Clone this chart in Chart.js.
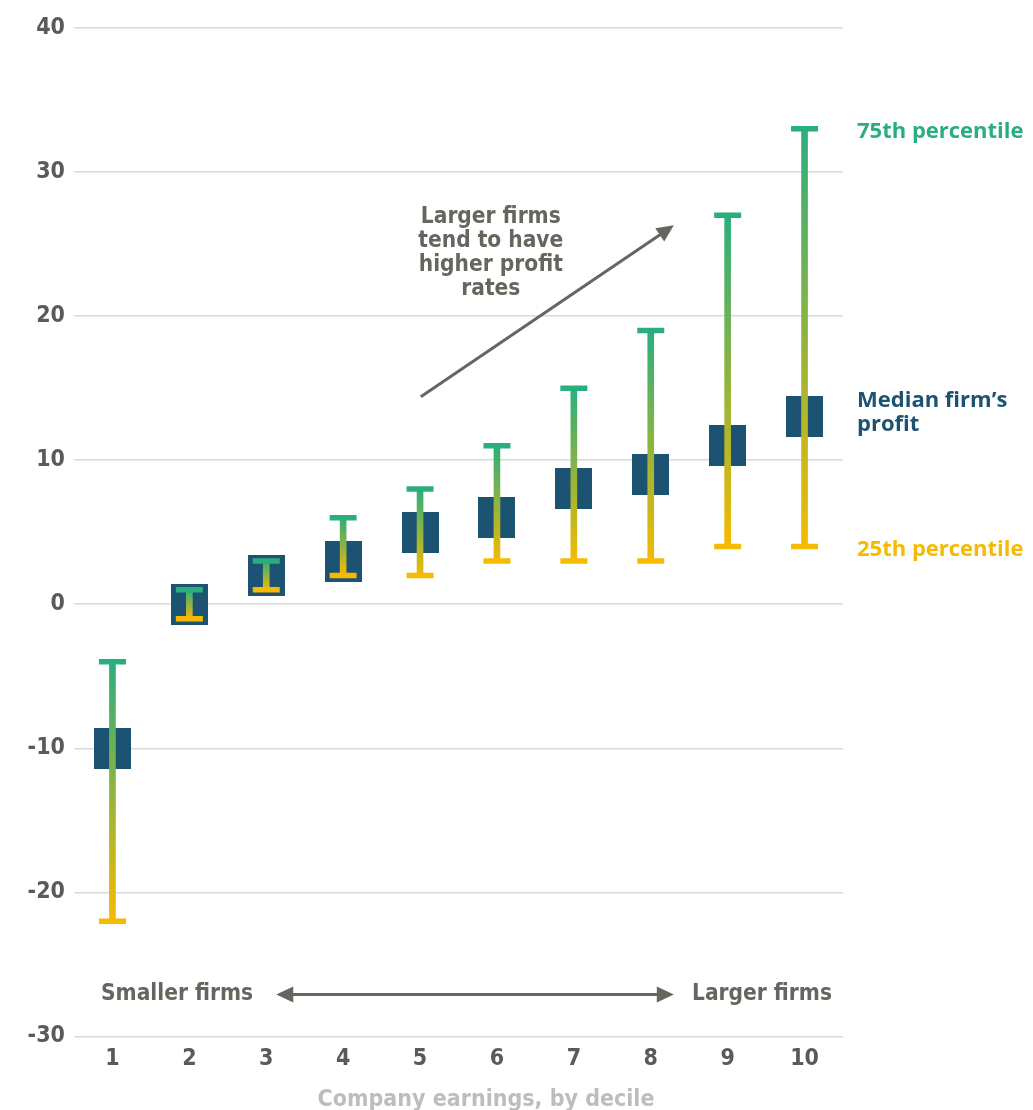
<!DOCTYPE html>
<html>
<head>
<meta charset="utf-8">
<script src="https://cdn.jsdelivr.net/npm/chart.js@4.4.1/dist/chart.umd.min.js"></script>
<style>
  html, body { margin: 0; padding: 0; background: #ffffff; }
  #wrap { width: 1033px; height: 1110px; position: relative; }
</style>
</head>
<body>
<div id="wrap"><canvas id="c" width="1033" height="1110"></canvas></div>
<script>
// ---- Data ----
const deciles = ['1', '2', '3', '4', '5', '6', '7', '8', '9', '10'];
const p25 = [-22, -1, 1, 2, 2, 3, 3, 3, 4, 4];
const median = [-10, 0, 2, 3, 5, 6, 8, 9, 11, 13];
const p75 = [-4, 1, 3, 6, 8, 11, 15, 19, 27, 33];
const yTicks = [-30, -20, -10, 0, 10, 20, 30, 40];

// ---- Styles ----
const GREEN = '#2bae7e';
const YELLOW = '#f6ba00';
const NAVY = '#1c5272';
const GREY_TEXT = '#5a5a5a';
const ANNOT = '#66665f';
const COND = '"DejaVu Sans Condensed", "Liberation Sans Narrow", sans-serif';
const WIDE = '"Open Sans", "Noto Sans", sans-serif';

const boxImg = document.createElement('canvas');
boxImg.width = 37; boxImg.height = 41;
(function () { const g = boxImg.getContext('2d'); g.fillStyle = NAVY; g.fillRect(0, 0, 37, 41); })();

function whiskerGradient(ctx) {
  if (ctx.type !== 'data') return GREEN;
  const chart = ctx.chart;
  const y = chart.scales.y;
  if (!y) return GREEN;
  const raw = ctx.raw;
  const top = y.getPixelForValue(raw[1]);
  const bottom = y.getPixelForValue(raw[0]);
  if (!isFinite(top) || !isFinite(bottom) || top === bottom) return GREEN;
  const g = chart.ctx.createLinearGradient(0, top, 0, bottom);
  g.addColorStop(0, GREEN);
  g.addColorStop(1, YELLOW);
  return g;
}

function arrowHead(c, x1, y1, x2, y2, len, half) {
  const a = Math.atan2(y2 - y1, x2 - x1);
  c.beginPath();
  c.moveTo(x2, y2);
  c.lineTo(x2 - len * Math.cos(a) + half * Math.sin(a), y2 - len * Math.sin(a) - half * Math.cos(a));
  c.lineTo(x2 - len * Math.cos(a) - half * Math.sin(a), y2 - len * Math.sin(a) + half * Math.cos(a));
  c.closePath();
  c.fill();
}

const annotations = {
  id: 'annotations',
  afterDraw(chart) {
    const c = chart.ctx;
    const x = chart.scales.x, y = chart.scales.y;
    const area = chart.chartArea;
    c.save();
    // Diagonal annotation
    c.fillStyle = ANNOT;
    c.font = 'bold 22.5px ' + COND;
    c.textAlign = 'center';
    c.textBaseline = 'middle';
    const tx = x.getPixelForValue(4.92);
    const ty0 = y.getPixelForValue(26.9);
    ['Larger firms', 'tend to have', 'higher profit', 'rates'].forEach((t, i) => c.fillText(t, tx, ty0 + i * 24));
    c.strokeStyle = ANNOT;
    c.lineWidth = 3;
    const ax1 = x.getPixelForValue(4.01), ay1 = y.getPixelForValue(14.4);
    const ax2 = x.getPixelForValue(7.3), ay2 = y.getPixelForValue(26.3);
    const ang = Math.atan2(ay2 - ay1, ax2 - ax1);
    c.beginPath(); c.moveTo(ax1, ay1); c.lineTo(ax2 - 10 * Math.cos(ang), ay2 - 10 * Math.sin(ang)); c.stroke();
    arrowHead(c, ax1, ay1, ax2, ay2, 17, 8);

    // Bottom firm size arrow
    const by = y.getPixelForValue(-27.1);
    c.textAlign = 'left';
    c.fillText('Smaller firms', area.left + 27, by);
    c.textAlign = 'right';
    c.fillText('Larger firms', area.right - 11, by);
    const bx1 = x.getPixelForValue(2.13), bx2 = x.getPixelForValue(7.3);
    c.beginPath(); c.moveTo(bx1 + 10, by); c.lineTo(bx2 - 10, by); c.stroke();
    arrowHead(c, bx2 - 20, by, bx2, by, 17, 8);
    arrowHead(c, bx1 + 20, by, bx1, by, 17, 8);

    // Right side series labels
    c.textAlign = 'left';
    c.font = 'bold 22px ' + WIDE;
    const lx = area.right + 14;
    const last = deciles.length - 1;
    c.fillStyle = GREEN;
    c.fillText('75th percentile', lx, y.getPixelForValue(p75[last]) + 3);
    c.fillStyle = NAVY;
    const my = y.getPixelForValue(median[last]);
    c.fillText('Median firm\u2019s', lx, my - 16);
    c.fillText('profit', lx, my + 8);
    c.fillStyle = YELLOW;
    c.fillText('25th percentile', lx, y.getPixelForValue(p25[last]) + 3);

    // Axis title (partially cropped at bottom as in the reference)
    c.fillStyle = '#bdbdbd';
    c.font = 'bold 23px ' + COND;
    c.textAlign = 'center';
    c.fillText('Company earnings, by decile', 486, 1100);
    c.restore();
  }
};

new Chart(document.getElementById('c'), {
  type: 'bar',
  data: {
    labels: deciles,
    datasets: [
      {
        type: 'line',
        label: '75th percentile',
        data: p75,
        showLine: false,
        pointStyle: 'line',
        pointRadius: 13.5,
        pointHoverRadius: 13.5,
        pointBorderWidth: 5.5,
        pointBorderColor: GREEN,
        order: 1
      },
      {
        type: 'line',
        label: '25th percentile',
        data: p25,
        showLine: false,
        pointStyle: 'line',
        pointRadius: 13.5,
        pointHoverRadius: 13.5,
        pointBorderWidth: 5.5,
        pointBorderColor: YELLOW,
        order: 1
      },
      {
        type: 'bar',
        label: 'Interquartile range',
        data: p25.map((v, i) => [v, p75[i]]),
        backgroundColor: whiskerGradient,
        borderWidth: 0,
        barThickness: 6,
        order: 2
      },
      {
        type: 'line',
        label: 'Median firm\u2019s profit',
        data: median,
        showLine: false,
        pointStyle: boxImg,
        pointRadius: 20,
        pointHoverRadius: 20,
        order: 3
      }
    ]
  },
  options: {
    responsive: false,
    animation: false,
    devicePixelRatio: 1,
    layout: { padding: { left: 0, right: 190, top: 28, bottom: 28 } },
    plugins: {
      legend: { display: false },
      tooltip: { enabled: false },
      title: { display: false }
    },
    scales: {
      x: {
        type: 'category',
        offset: true,
        grid: { display: false, drawTicks: false },
        border: { display: false },
        ticks: {
          color: GREY_TEXT,
          font: { family: COND, size: 23, weight: 'bold' },
          padding: 9,
          maxRotation: 0
        }
      },
      y: {
        min: -30,
        max: 40,
        afterFit: (s) => { s.width = 74; },
        afterBuildTicks: (s) => { s.ticks = yTicks.map(v => ({ value: v })); },
        grid: { color: '#d9d9d9', lineWidth: 1.5, drawTicks: false },
        border: { display: false },
        ticks: {
          color: GREY_TEXT,
          font: { family: COND, size: 23, weight: 'bold' },
          padding: 9
        }
      }
    }
  },
  plugins: [annotations]
});
</script>
</body>
</html>
